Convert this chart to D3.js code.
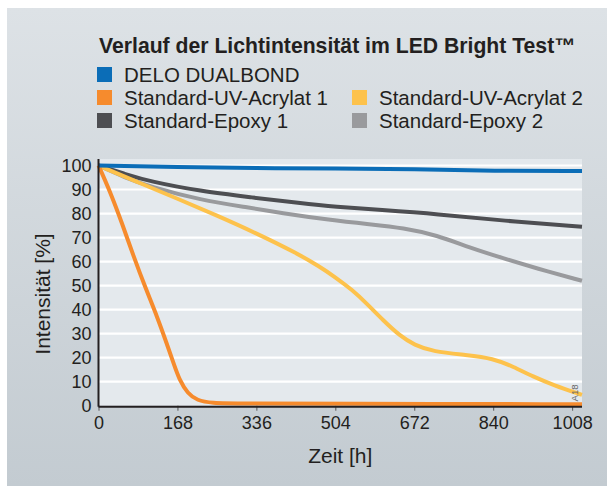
<!DOCTYPE html>
<html>
<head>
<meta charset="utf-8">
<script src="https://cdn.jsdelivr.net/npm/d3@7"></script>
<style>
  body { margin: 0; background: #fff; }
  svg { display: block; font-family: "Liberation Sans", Arial, Helvetica, sans-serif; }
</style>
</head>
<body>
<div id="chart"></div>
<script>
// values (hours, percent)
var xTicks = [0, 168, 336, 504, 672, 840, 1008];
var yTicks = [0, 10, 20, 30, 40, 50, 60, 70, 80, 90, 100];

var deloDualbond = [[0, 100], [168, 99.4], [336, 98.9], [504, 98.8], [672, 98.6], [840, 97.7], [1029, 97.7]];
var uvAcrylat1 = [[0, 100], [25, 89], [50, 76], [75, 62], [100, 49], [125, 37], [145, 26], [160, 17.5], [172, 10.8],
                  [190, 5], [210, 2.2], [240, 1.1], [300, 0.9], [504, 0.8], [1029, 0.6]];
var uvAcrylat2 = [[0, 100], [84, 93], [168, 86.2], [252, 79.2], [336, 71.8], [422, 63.5], [470, 58], [504, 53.5],
                  [540, 48.2], [571, 42.5], [606, 35.5], [642, 29], [672, 25.3], [712, 22.5], [783, 21.1],
                  [840, 19.7], [883, 16.2], [925, 12.1], [968, 8.6], [1029, 4.5]];
var epoxy1 = [[0, 100], [56, 96.5], [110, 93.3], [217, 89.3], [323, 86.8], [430, 84.3], [504, 82.8], [600, 81.5],
              [720, 79.8], [861, 77], [1029, 74.5]];
var epoxy2 = [[0, 100], [56, 95], [110, 91.2], [217, 85.6], [323, 82.4], [386, 80.3], [493, 77.3], [578, 75.5],
              [649, 74], [720, 71], [790, 65.8], [861, 61.4], [932, 57.2], [1029, 52]];

var seriesNames = ["DELO DUALBOND", "Standard-UV-Acrylat 1", "Standard-UV-Acrylat 2", "Standard-Epoxy 1", "Standard-Epoxy 2"];
var seriesColors = ["#0b6db7", "#f68b2d", "#fdc24c", "#4d4e52", "#999a9d"];

var drawChart = (function () {
    const width = 607, height = 486;
    const textColor = "#231f20";

    var svg = d3.select("#chart").append("svg")
        .attr("width", width)
        .attr("height", height);

    var grad = svg.append("defs").append("linearGradient")
        .attr("id", "panelGrad")
        .attr("x1", 0).attr("y1", 0).attr("x2", 0).attr("y2", 1);
    grad.append("stop").attr("offset", "0%").attr("stop-color", "#dde2e6");
    grad.append("stop").attr("offset", "100%").attr("stop-color", "#c3cbd1");

    svg.append("rect")
        .attr("x", 7).attr("y", 8)
        .attr("width", width - 7).attr("height", height - 8)
        .attr("fill", "url(#panelGrad)");

    // title
    svg.append("text")
        .attr("x", 99).attr("y", 53)
        .attr("font-size", 21.2)
        .attr("font-weight", "bold")
        .attr("fill", textColor)
        .text("Verlauf der Lichtintensität im LED Bright Test™");

    // legend
    var legendPos = [[97, 67], [97, 90], [352, 90], [97, 113], [352, 113]];
    var legend = svg.append("g").selectAll("g")
        .data(seriesNames)
        .enter().append("g")
        .attr("transform", function (d, i) { return "translate(" + legendPos[i][0] + "," + legendPos[i][1] + ")"; });
    legend.append("rect")
        .attr("width", 15).attr("height", 15)
        .attr("fill", function (d, i) { return seriesColors[i]; });
    legend.append("text")
        .attr("x", 27).attr("y", 15)
        .attr("font-size", 20.5)
        .attr("fill", textColor)
        .text(function (d) { return d; });

    // plot area
    var left = 98.5, right = 582, top = 159, bottom = 405.7;
    var x = d3.scaleLinear().domain([0, 1029]).range([left, right]);
    var y = d3.scaleLinear().domain([0, 100]).range([bottom, 165.5]);

    svg.append("rect")
        .attr("x", left).attr("y", top)
        .attr("width", right - left).attr("height", bottom - top)
        .attr("fill", "#e4e9ed");

    svg.append("g").selectAll("line")
        .data(yTicks.filter(function (d) { return d > 0; }))
        .enter().append("line")
        .attr("x1", left).attr("x2", right)
        .attr("y1", function (d) { return y(d); })
        .attr("y2", function (d) { return y(d); })
        .attr("stroke", "#fff")
        .attr("stroke-width", 2.2);

    // x axis
    var xAxis = svg.append("g")
        .attr("transform", "translate(0," + bottom + ")")
        .call(d3.axisBottom(x).tickValues(xTicks).tickFormat(d3.format("d"))
            .tickSize(5).tickPadding(6).tickSizeOuter(0));
    xAxis.select(".domain").remove();
    xAxis.selectAll(".tick line").attr("stroke", "#555").attr("stroke-width", 1);
    xAxis.selectAll(".tick text")
        .attr("font-size", 18)
        .attr("font-family", "Liberation Sans, Arial, sans-serif")
        .attr("fill", textColor);

    // y axis labels
    var yAxis = svg.append("g")
        .attr("transform", "translate(" + left + ",0)")
        .call(d3.axisLeft(y).tickValues(yTicks).tickSize(0).tickPadding(7));
    yAxis.select(".domain").remove();
    yAxis.selectAll(".tick text")
        .attr("font-size", 18)
        .attr("font-family", "Liberation Sans, Arial, sans-serif")
        .attr("fill", textColor);

    // lines
    var line = d3.line()
        .x(function (d) { return x(d[0]); })
        .y(function (d) { return y(d[1]); })
        .curve(d3.curveBasis);

    var drawOrder = [4, 3, 2, 1, 0];
    var allSeries = [deloDualbond, uvAcrylat1, uvAcrylat2, epoxy1, epoxy2];
    drawOrder.forEach(function (i) {
        svg.append("path")
            .datum(allSeries[i])
            .attr("d", line)
            .attr("fill", "none")
            .attr("stroke", seriesColors[i])
            .attr("stroke-width", 4)
            .attr("stroke-linejoin", "round");
    });

    // axis lines
    svg.append("line")
        .attr("x1", left).attr("x2", left)
        .attr("y1", top).attr("y2", bottom + 1)
        .attr("stroke", textColor).attr("stroke-width", 2);
    svg.append("line")
        .attr("x1", left).attr("x2", right)
        .attr("y1", bottom + 1).attr("y2", bottom + 1)
        .attr("stroke", textColor).attr("stroke-width", 2);

    // axis titles
    svg.append("text")
        .attr("x", (left + right) / 2).attr("y", 463)
        .attr("text-anchor", "middle")
        .attr("font-size", 21)
        .attr("fill", textColor)
        .text("Zeit [h]");
    svg.append("text")
        .attr("transform", "translate(50,294) rotate(-90)")
        .attr("text-anchor", "middle")
        .attr("font-size", 21)
        .attr("fill", textColor)
        .text("Intensität [%]");

    svg.append("text")
        .attr("transform", "translate(578,393) rotate(-90)")
        .attr("text-anchor", "middle")
        .attr("font-size", 9.5)
        .attr("fill", "#666")
        .text("A18");
}());
</script>
</body>
</html>
